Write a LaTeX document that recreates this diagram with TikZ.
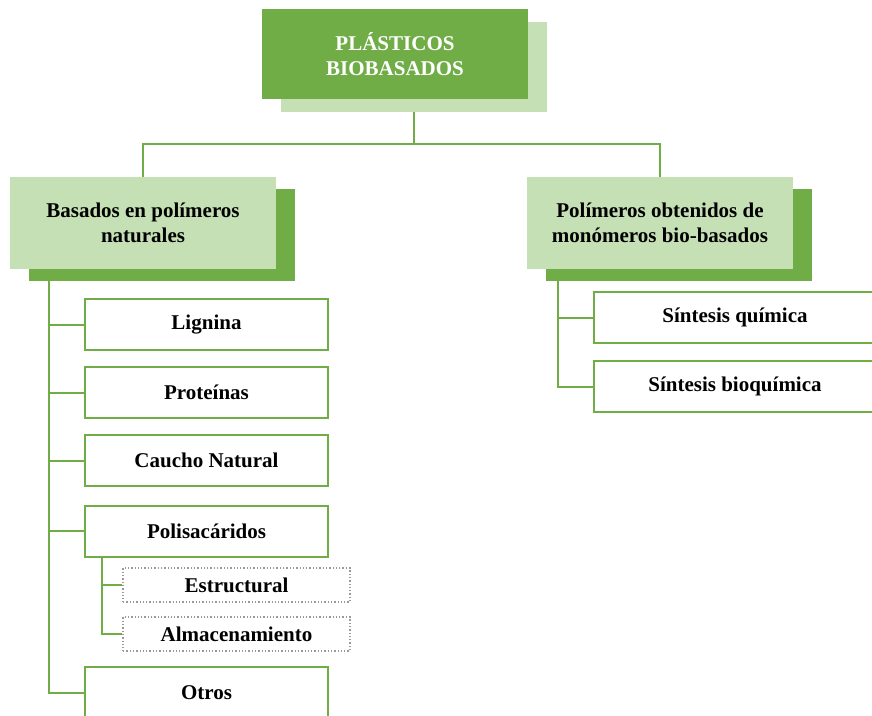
\documentclass[tikz,border=0pt]{standalone}
\usepackage{fontspec}
\setmainfont{Liberation Serif}
\usetikzlibrary{shadows}
\definecolor{leafgreen}{HTML}{70AD47}
\definecolor{palegreen}{HTML}{C5E0B4}

\begin{document}
\begin{tikzpicture}[x=1pt, y=1pt, node distance=68pt,
  every node/.style={font=\fontsize{21}{25.5}\selectfont\bfseries, align=center, inner sep=0pt},
  topbox/.style={rectangle, fill=leafgreen, text=white, minimum width=266pt, minimum height=90pt, general shadow={shadow xshift=19pt, shadow yshift=-13pt, fill=palegreen}},
  groupbox/.style={rectangle, fill=palegreen, minimum width=266pt, minimum height=92pt, general shadow={shadow xshift=19pt, shadow yshift=-12pt, fill=leafgreen}},
  leafbox/.style={rectangle, draw=leafgreen, line width=2pt, fill=white, minimum width=243pt, minimum height=51pt},
  subbox/.style={rectangle, draw=black!40, dotted, line width=1.3pt, minimum width=227pt, minimum height=34pt},
  link/.style={draw=leafgreen, line width=2pt}]

\useasboundingbox (0,0) rectangle (872,-715);
\clip (0,0) rectangle (872,-715);

\node[topbox] (root) at (395,-54) {PLÁSTICOS\\BIOBASADOS};
\node[groupbox, below of=root, node distance=169pt, xshift=-252pt] (natural) {Basados en polímeros\\naturales};
\node[groupbox, right of=natural, node distance=517pt] (mono) {Polímeros obtenidos de\\monómeros bio-basados};

% ramas naturales
\node[leafbox, below of=natural, node distance=101.5pt, xshift=63.5pt] (lignina) {Lignina};
\node[leafbox, below of=lignina] (proteinas) {Proteínas};
\node[leafbox, below of=proteinas] (caucho) {Caucho Natural};
\node[leafbox, below of=caucho, node distance=70.5pt] (polis) {Polisacáridos};
\node[subbox, below of=polis, node distance=54pt, xshift=30pt] (estructural) {Estructural};
\node[subbox, below of=estructural, node distance=49pt] (almac) {Almacenamiento};
\node[leafbox, below of=polis, node distance=161.5pt] (otros) {Otros};

% ramas monomeros
\node[leafbox, minimum width=282pt, below of=mono, node distance=94.5pt, xshift=75pt] (quimica) {Síntesis química};
\node[leafbox, minimum width=282pt, below of=quimica, node distance=69pt] (bioquimica) {Síntesis bioquímica};

\draw[link] ([shift={(19pt,-13pt)}]root.south) -- ++(0,-32pt) coordinate (hub);
\draw[link] (hub) -| (natural.north);
\draw[link] (hub) -| (mono.north);

\foreach \leaf in {lignina,proteinas,caucho,polis,otros}
  \draw[link] ([shift={(39pt,-12pt)}]natural.south west) |- (\leaf.west);
\foreach \leaf in {estructural,almac}
  \draw[link] ([xshift=18pt]polis.south west) |- (\leaf.west);
\foreach \leaf in {quimica,bioquimica}
  \draw[link] ([shift={(31pt,-12pt)}]mono.south west) |- (\leaf.west);

\end{tikzpicture}
\end{document}
